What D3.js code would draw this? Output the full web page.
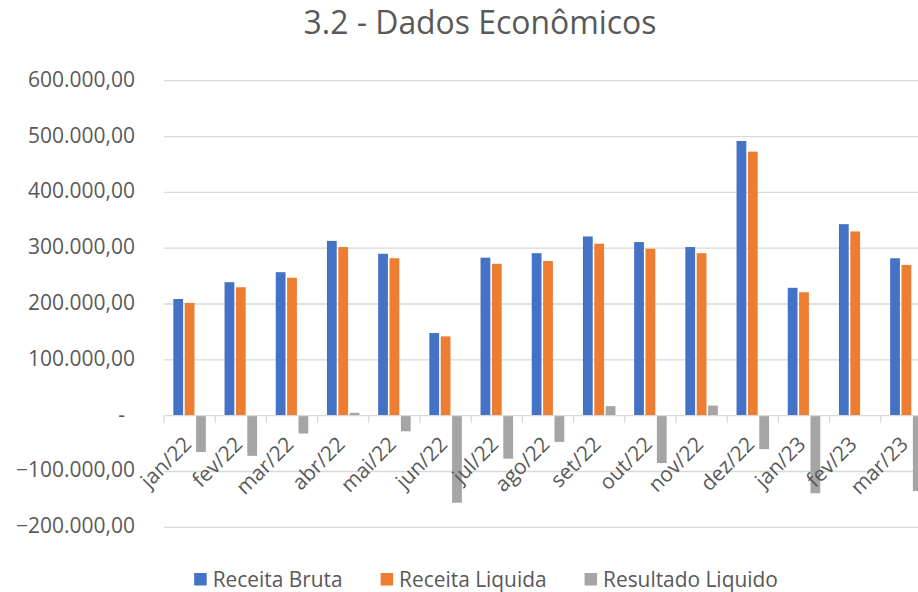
<!DOCTYPE html>
<html>
<head>
<meta charset="utf-8">
<script src="https://cdn.jsdelivr.net/npm/d3@7"></script>
<style>
  html, body { margin: 0; padding: 0; background: #ffffff; overflow: hidden; }
  svg { display: block; font-family: "Open Sans", Lato, sans-serif; }
</style>
</head>
<body>
<svg id="chart" width="918" height="592"></svg>
<script>
const categories = ["jan/22","fev/22","mar/22","abr/22","mai/22","jun/22","jul/22","ago/22","set/22","out/22","nov/22","dez/22","jan/23","fev/23","mar/23"];
const receitaBruta = [209000,239000,257000,313000,290000,148000,283000,291000,321000,311000,302000,492000,229000,343000,282000];
const receitaLiquida = [202000,230000,247000,302000,282000,142000,272000,277000,308000,299000,291000,473000,221000,330000,270000];
const resultadoLiquido = [-65000,-72000,-32000,5000,-28000,-156000,-77000,-47000,17000,-85000,18000,-60000,-139000,0,-135000];
const seriesNames = ["Receita Bruta","Receita Liquida","Resultado Liquido"];
const seriesColors = ["#4472C4","#ED7D31","#A5A5A5"];
const yTicks = [-200000,-100000,0,100000,200000,300000,400000,500000,600000];
const title = "3.2 - Dados Econômicos";

const seriesData = [receitaBruta, receitaLiquida, resultadoLiquido];

const svg = d3.select("#chart");
const W = 918, H = 592;
svg.append("rect").attr("width", W).attr("height", H).attr("fill", "#ffffff");

const plotLeft = 164, plotRight = 932, plotTop = 80.7, plotBottom = 527.3;
const textColor = "#595959";

// fit a font size so that a sample string has the target width
function fitSize(sample, target, base) {
  const t = svg.append("text").attr("font-size", base).text(sample);
  const w = t.node().getComputedTextLength();
  t.remove();
  return base * target / w;
}
const labelSize = fitSize("600.000,00", 107, 20);
const legendSize = fitSize("Receita Bruta", 130, 20);
const titleSize = fitSize(title, 353, 28);

const x = d3.scaleBand().domain(categories).range([plotLeft, plotRight]).paddingInner(0).paddingOuter(0);
const xs = d3.scaleBand().domain(seriesNames).range([0, x.bandwidth()]).paddingInner(0).paddingOuter(0.75);
const y = d3.scaleLinear().domain([-200000, 600000]).range([plotBottom, plotTop]);

const loc = d3.formatLocale({decimal: ",", thousands: ".", grouping: [3], currency: ["", ""]});
const fmt = loc.format(",.2f");

// gridlines
svg.append("g").selectAll("line").data(yTicks.filter(d => d !== 0)).join("line")
  .attr("x1", plotLeft).attr("x2", W)
  .attr("y1", d => y(d)).attr("y2", d => y(d))
  .attr("stroke", "#D9D9D9").attr("stroke-width", 1.3);

// y labels
svg.append("g").selectAll("text").data(yTicks).join("text")
  .attr("x", d => d === 0 ? 125 : 135)
  .attr("y", d => y(d) - 2)
  .attr("dominant-baseline", "central")
  .attr("text-anchor", "end")
  .attr("font-size", labelSize)
  .attr("fill", textColor)
  .text(d => d === 0 ? "-" : fmt(d));

// bars
const groups = svg.append("g").selectAll("g").data(categories).join("g")
  .attr("transform", d => `translate(${x(d)},0)`);
groups.selectAll("rect").data((c, i) => seriesNames.map((s, k) => ({s, k, v: seriesData[k][i]}))).join("rect")
  .attr("x", d => xs(d.s) + 0.8)
  .attr("width", xs.bandwidth() - 1.6)
  .attr("y", d => Math.min(y(d.v), y(0)))
  .attr("height", d => Math.abs(y(d.v) - y(0)))
  .attr("fill", d => seriesColors[d.k]);

// zero axis line + ticks
const axisG = svg.append("g");
axisG.append("line").attr("x1", plotLeft).attr("x2", W).attr("y1", y(0)).attr("y2", y(0))
  .attr("stroke", "#D9D9D9").attr("stroke-width", 1.3);
const boundaries = categories.map(c => x(c)).concat([plotRight]);
axisG.selectAll("line.tk").data(boundaries).join("line").attr("class", "tk")
  .attr("x1", d => d).attr("x2", d => d)
  .attr("y1", y(0)).attr("y2", y(0) + 7)
  .attr("stroke", "#D9D9D9").attr("stroke-width", 1.3);

// x labels
svg.append("g").selectAll("text").data(categories).join("text")
  .attr("transform", d => `translate(${x(d) + x.bandwidth() / 2 + 3},${y(0) + 30}) rotate(-45)`)
  .attr("text-anchor", "end")
  .attr("font-size", legendSize)
  .attr("fill", textColor)
  .text(d => d);

// title
svg.append("text").attr("x", 480).attr("y", 34).attr("text-anchor", "middle")
  .attr("font-size", titleSize).attr("fill", textColor).text(title);

// legend
const leg = svg.append("g");
const items = leg.selectAll("g").data(seriesNames).join("g");
items.append("rect").attr("width", 12.5).attr("height", 12.5).attr("y", -6.5)
  .attr("fill", (d, i) => seriesColors[i]);
items.append("text").attr("x", 18.5).attr("y", -1).attr("dominant-baseline", "central")
  .attr("font-size", legendSize).attr("fill", textColor).text(d => d);
const widths = [];
items.each(function() { widths.push(this.getBBox().width); });
const gap = 38;
const total = d3.sum(widths) + gap * (widths.length - 1);
let start = 486 - total / 2;
items.attr("transform", (d, i) => {
  const t = `translate(${start},579.5)`;
  start += widths[i] + gap;
  return t;
});
</script>
</body>
</html>
